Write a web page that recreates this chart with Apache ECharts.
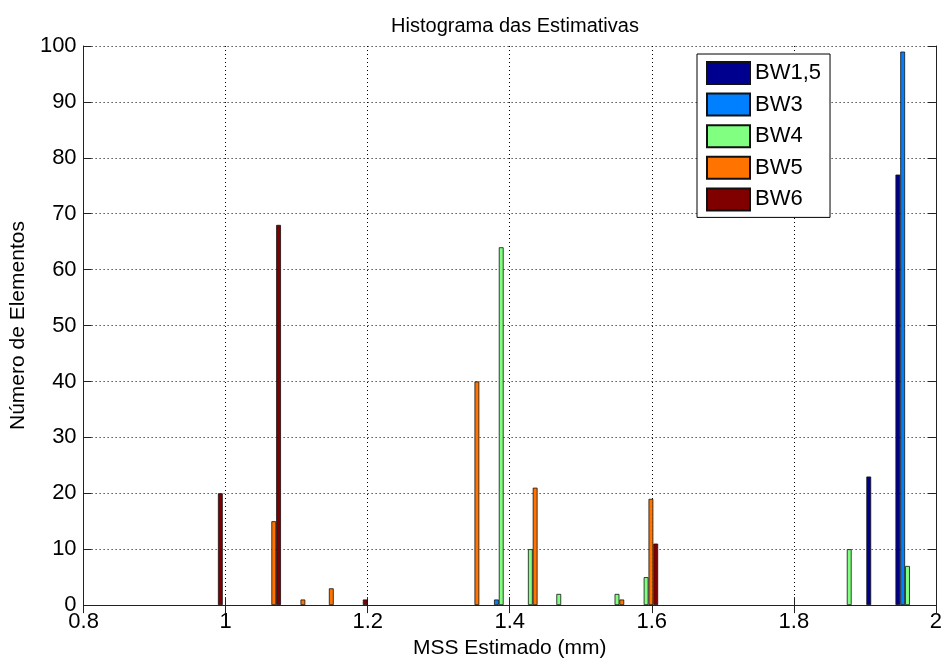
<!DOCTYPE html>
<html>
<head>
<meta charset="utf-8">
<script src="https://cdn.jsdelivr.net/npm/echarts@6/dist/echarts.min.js"></script>
<style>
  html, body { margin: 0; padding: 0; background: #fff; }
  #histograma { width: 945px; height: 664px; }
</style>
</head>
<body>
<div id="histograma"></div>
<script>
// centros dos bins (só os que têm contagem)
var binCenters = [0.979, 1.061, 1.102, 1.142, 1.183, 1.347, 1.388, 1.429, 1.469, 1.551, 1.592, 1.878, 1.919, 1.960];

// contagens por série, alinhadas com binCenters
var seriesNames = ['BW1,5', 'BW3', 'BW4', 'BW5', 'BW6'];
var bw15 = [0, 0, 0, 0, 0, 0, 0, 0, 0, 0, 0, 0, 23, 77];
var bw3  = [0, 0, 0, 0, 0, 0, 1, 0, 0, 0, 0, 0, 0, 99];
var bw4  = [0, 0, 0, 0, 0, 0, 64, 10, 2, 2, 5, 10, 0, 7];
var bw5  = [0, 15, 1, 3, 0, 40, 0, 21, 0, 1, 19, 0, 0, 0];
var bw6  = [20, 68, 0, 0, 1, 0, 0, 0, 0, 0, 11, 0, 0, 0];

var xTicks = { min: 0.8, max: 2, interval: 0.2 };
var yTicks = { min: 0, max: 100, interval: 10 };

var colors = ['#00008f', '#0080ff', '#80ff80', '#ff7400', '#800000'];
var FONT = '"Liberation Sans", Arial, sans-serif';

var chart = echarts.init(document.getElementById('histograma'));

function pares(counts) {
    var out = [];
    for (var i = 0; i < binCenters.length; i++) {
        if (counts[i] > 0) out.push([binCenters[i], counts[i]]);
    }
    return out;
}

var allCounts = [bw15, bw3, bw4, bw5, bw6];
var series = allCounts.map(function (c, i) {
    return {
        name: seriesNames[i],
        type: 'bar',
        xAxisIndex: 0,
        yAxisIndex: 0,
        barWidth: 4.8,
        barGap: '0%',
        data: pares(c),
        itemStyle: { color: colors[i], borderColor: '#111', borderWidth: 0.8 }
    };
});

var dotted = { color: '#000', width: 1, type: [1, 3] };

chart.setOption({
    animation: false,
    textStyle: { fontFamily: FONT },
    title: {
        text: 'Histograma das Estimativas',
        left: 510,
        top: 11,
        textAlign: 'center',
        textStyle: { fontFamily: FONT, fontSize: 20, fontWeight: 'normal', color: '#000' }
    },
    legend: {
        orient: 'vertical',
        left: 697,
        top: 54,
        padding: [7, 9, 6, 9],
        itemWidth: 43,
        itemHeight: 22,
        itemGap: 7.6,
        icon: 'rect',
        backgroundColor: '#fff',
        borderColor: '#000',
        borderWidth: 1,
        borderRadius: 0,
        data: seriesNames,
        textStyle: { fontFamily: FONT, fontSize: 22, color: '#000' }
    },
    grid: { left: 83, right: 8, top: 46, bottom: 58, containLabel: false },
    xAxis: [{
        type: 'value',
        min: xTicks.min, max: xTicks.max, interval: xTicks.interval,
        name: 'MSS Estimado (mm)',
        nameLocation: 'middle',
        nameGap: 32,
        nameTextStyle: { fontFamily: FONT, fontSize: 21, color: '#000' },
        axisLine: { show: true, lineStyle: { color: '#222', width: 1 } },
        axisTick: { show: true, inside: true, length: 8, lineStyle: { color: '#222' } },
        axisLabel: { fontFamily: FONT, fontSize: 22, color: '#000', margin: 6 },
        splitLine: { show: true, lineStyle: dotted }
    }, {
        type: 'value', position: 'top',
        min: xTicks.min, max: xTicks.max, interval: xTicks.interval,
        axisLine: { show: true, lineStyle: { color: '#222', width: 1 } },
        axisTick: { show: true, inside: true, length: 8, lineStyle: { color: '#222' } },
        axisLabel: { show: false },
        splitLine: { show: false }
    }],
    yAxis: [{
        type: 'value',
        min: yTicks.min, max: yTicks.max, interval: yTicks.interval,
        name: 'Número de Elementos',
        nameLocation: 'middle',
        nameGap: 47,
        nameTextStyle: { fontFamily: FONT, fontSize: 21, color: '#000' },
        axisLine: { show: true, lineStyle: { color: '#222', width: 1 } },
        axisTick: { show: true, inside: true, length: 8, lineStyle: { color: '#222' } },
        axisLabel: { fontFamily: FONT, fontSize: 22, color: '#000', margin: 7 },
        splitLine: { show: true, lineStyle: dotted }
    }, {
        type: 'value', position: 'right',
        min: yTicks.min, max: yTicks.max, interval: yTicks.interval,
        axisLine: { show: true, lineStyle: { color: '#222', width: 1 } },
        axisTick: { show: true, inside: true, length: 8, lineStyle: { color: '#222' } },
        axisLabel: { show: false },
        splitLine: { show: false }
    }],
    series: series
});
</script>
</body>
</html>
